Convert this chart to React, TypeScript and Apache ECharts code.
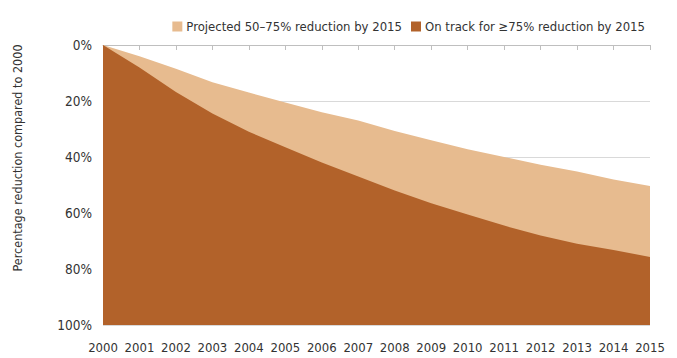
import React, { useEffect, useRef } from "react";
import * as echarts from "echarts";

const years = ["2000","2001","2002","2003","2004","2005","2006","2007","2008","2009","2010","2011","2012","2013","2014","2015"];
const projected = [0, 4, 8.5, 13.3, 17, 20.5, 24, 27, 30.7, 34, 37.2, 40, 42.8, 45.2, 48, 50.4];
const onTrack = [0, 8, 16.8, 24.5, 31, 36.5, 42, 47, 52, 56.5, 60.5, 64.5, 68, 71, 73.2, 75.7];
const yTicks = [0, 20, 40, 60, 80, 100];

const FONT = "'Liberation Sans Narrow', 'DejaVu Sans Condensed', sans-serif";

export default function App() {
  const ref = useRef<HTMLDivElement>(null);
  useEffect(() => {
    const chart = echarts.init(ref.current!, undefined, { renderer: "svg" });
    chart.setOption({
      animation: false,
      textStyle: { fontFamily: FONT },
      legend: {
        right: 27,
        top: 15,
        itemWidth: 10,
        itemHeight: 10,
        itemGap: 9,
        icon: "rect",
        textStyle: { fontSize: 13, color: "#333", fontFamily: FONT, padding: [0, 0, 0, -1] },
        data: ["Projected 50\u201375% reduction by 2015", "On track for \u226575% reduction by 2015"],
      },
      grid: { left: 103, right: 27, top: 45, bottom: 33, containLabel: false },
      xAxis: {
        type: "category",
        data: years,
        boundaryGap: false,
        axisLine: { show: true, lineStyle: { color: "#BFBFBF" } },
        axisTick: { show: true, length: 5, interval: 0, lineStyle: { color: "#BFBFBF" } },
        axisLabel: { fontSize: 13, color: "#333", fontFamily: FONT, margin: 16, interval: 0 },
      },
      yAxis: {
        type: "value",
        inverse: true,
        min: 0,
        max: 100,
        interval: 20,
        axisLine: { show: false },
        axisTick: { show: false },
        splitLine: { show: true, lineStyle: { color: "#D9D9D9" } },
        axisLabel: {
          fontSize: 13.5,
          color: "#333",
          fontFamily: FONT,
          margin: 11,
          formatter: (v: number) => (yTicks.includes(v) ? v + "%" : ""),
        },
      },
      graphic: [
        {
          type: "text",
          x: 17,
          y: 158,
          rotation: Math.PI / 2,
          style: {
            text: "Percentage reduction compared to 2000",
            fontSize: 12.5,
            fontFamily: FONT,
            fill: "#333",
            textAlign: "center",
            textVerticalAlign: "middle",
          },
        },
      ],
      series: [
        {
          name: "Projected 50\u201375% reduction by 2015",
          type: "line",
          data: projected,
          symbol: "none",
          lineStyle: { width: 0 },
          itemStyle: { color: "#E7BB8F" },
          areaStyle: { color: "#E7BB8F", opacity: 1, origin: "end" },
        },
        {
          name: "On track for \u226575% reduction by 2015",
          type: "line",
          data: onTrack,
          symbol: "none",
          lineStyle: { width: 0 },
          itemStyle: { color: "#B2622A" },
          areaStyle: { color: "#B2622A", opacity: 1, origin: "end" },
        },
      ],
    });
    return () => chart.dispose();
  }, []);
  return <div ref={ref} style={{ width: 677, height: 358, position: "absolute", left: 0, top: 0 }} />;
}
